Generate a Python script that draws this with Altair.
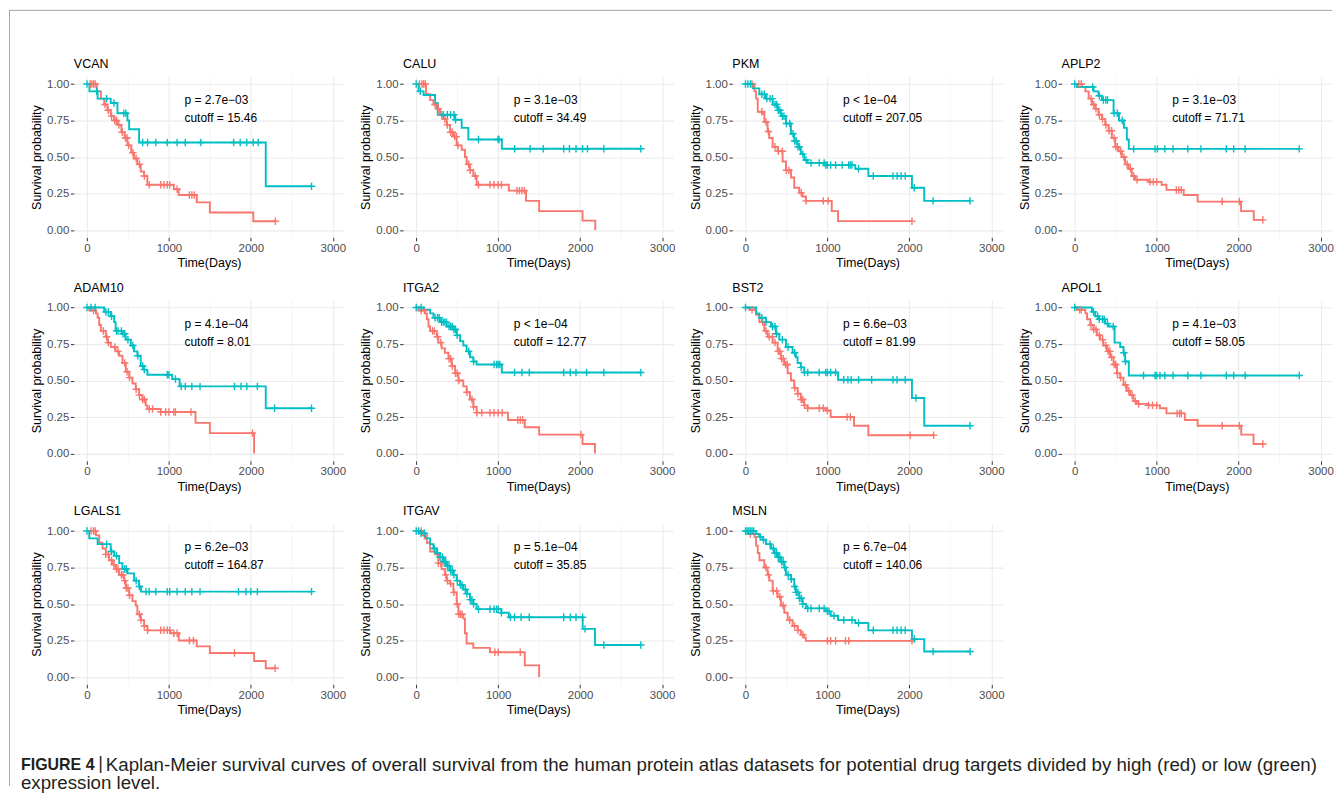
import altair as alt
import pandas as pd

FONT = "Liberation Sans"
RED = "#F8766D"
TEAL = "#00BFC4"
FRAME = "#A6A6A6"

GENES = ["VCAN", "CALU", "PKM", "APLP2", "ADAM10", "ITGA2", "BST2", "APOL1", "LGALS1", "ITGAV", "MSLN"]
P_VALUES = ["p = 2.7e\u221203", "p = 3.1e\u221203", "p < 1e\u221204", "p = 3.1e\u221203", "p = 4.1e\u221204",
            "p < 1e\u221204", "p = 6.6e\u221203", "p = 4.1e\u221203", "p = 6.2e\u221203", "p = 5.1e\u221204",
            "p = 6.7e\u221204"]
CUTOFFS = ["15.46", "34.49", "207.05", "71.71", "8.01", "12.77", "81.99", "58.05", "164.87", "35.85", "140.06"]

X_TICKS = [0, 500, 1000, 1500, 2000, 2500, 3000]
Y_TICKS = [0, 0.125, 0.25, 0.375, 0.5, 0.625, 0.75, 0.875, 1.0]

CAPTION_BOLD = "FIGURE 4"
CAPTION_BAR = "|"
CAPTION_1 = ("Kaplan-Meier survival curves of overall survival from the human protein atlas datasets "
             "for potential drug targets divided by high (red) or low (green)")
CAPTION_2 = "expression level."

# ---- survival curves: step times (days), survival, censor times ----
VCAN_HI_T = [0, 120, 170, 210, 250, 290, 330, 372, 420, 460, 494, 540, 575, 615, 656, 697, 737, 1060, 1120, 1340, 1500, 2030, 2300]
VCAN_HI_S = [1.0, 0.95, 0.90, 0.86, 0.82, 0.78, 0.75, 0.72, 0.67, 0.63, 0.58, 0.53, 0.49, 0.45, 0.40, 0.37, 0.31, 0.28, 0.24, 0.19, 0.12, 0.06, 0.06]
VCAN_HI_C = [40, 60, 80, 100, 220, 260, 300, 340, 360, 390, 430, 470, 490, 510, 560, 600, 640, 700, 760, 900, 940, 980, 1010, 1100, 1250, 1280, 1310, 2300]
VCAN_LO_T = [0, 30, 130, 290, 372, 494, 515, 636, 2182, 2741]
VCAN_LO_S = [1.0, 0.95, 0.90, 0.87, 0.80, 0.75, 0.69, 0.60, 0.30, 0.30]
VCAN_LO_C = [0, 120, 240, 330, 450, 475, 680, 740, 840, 980, 1100, 1200, 1390, 1790, 1870, 1950, 2030, 2090, 2741]

CALU_HI_T = [0, 120, 170, 210, 250, 290, 332, 372, 413, 453, 494, 555, 595, 615, 656, 697, 737, 1130, 1340, 1500, 2030, 2185]
CALU_HI_S = [1.0, 0.93, 0.89, 0.86, 0.83, 0.79, 0.76, 0.72, 0.67, 0.64, 0.58, 0.55, 0.50, 0.45, 0.41, 0.37, 0.31, 0.27, 0.20, 0.13, 0.065, 0.0]
CALU_HI_C = [40, 70, 90, 110, 230, 270, 310, 350, 380, 420, 440, 470, 490, 510, 640, 660, 720, 760, 900, 950, 1000, 1040, 1230, 1260, 1290, 1320]
CALU_LO_T = [0, 28, 90, 230, 262, 474, 555, 636, 1045, 2741]
CALU_LO_S = [1.0, 0.95, 0.925, 0.87, 0.79, 0.755, 0.70, 0.62, 0.557, 0.557]
CALU_LO_C = [0, 50, 330, 380, 420, 460, 480, 760, 1000, 1010, 1200, 1390, 1550, 1800, 1870, 1950, 2030, 2090, 2290, 2741]

PKM_HI_T = [0, 110, 130, 150, 210, 230, 270, 290, 332, 393, 453, 494, 555, 595, 656, 697, 737, 1053, 1130, 2032]
PKM_HI_S = [1.0, 0.95, 0.90, 0.81, 0.80, 0.74, 0.675, 0.63, 0.57, 0.54, 0.47, 0.41, 0.36, 0.29, 0.255, 0.23, 0.20, 0.13, 0.061, 0.061]
PKM_HI_C = [80, 200, 250, 280, 360, 400, 450, 500, 530, 680, 740, 950, 1010, 2032]
PKM_LO_T = [0, 90, 170, 250, 332, 393, 433, 494, 555, 595, 636, 676, 717, 757, 980, 1340, 1500, 2032, 2182, 2741]
PKM_LO_S = [1.0, 0.97, 0.93, 0.90, 0.86, 0.82, 0.78, 0.73, 0.66, 0.61, 0.57, 0.52, 0.48, 0.46, 0.445, 0.42, 0.37, 0.29, 0.20, 0.20]
PKM_LO_C = [0, 30, 60, 200, 230, 260, 300, 330, 360, 380, 400, 420, 450, 470, 500, 540, 580, 600, 620, 640, 660, 700, 740,
            800, 900, 960, 980, 1000, 1040, 1100, 1180, 1260, 1280, 1300, 1380, 1560, 1800, 1850, 1900, 1950, 2060, 2290, 2741]

APLP2_HI_T = [0, 90, 130, 170, 210, 250, 290, 332, 372, 413, 453, 494, 535, 575, 615, 656, 697, 737, 900, 1060, 1120, 1330, 1500, 2030, 2185, 2296]
APLP2_HI_S = [1.0, 0.98, 0.95, 0.90, 0.86, 0.83, 0.79, 0.76, 0.72, 0.68, 0.63, 0.57, 0.54, 0.50, 0.45, 0.42, 0.37, 0.345, 0.33, 0.31, 0.275, 0.24, 0.195, 0.13, 0.07, 0.07]
APLP2_HI_C = [50, 80, 200, 230, 260, 300, 340, 380, 420, 450, 480, 500, 520, 560, 600, 640, 680, 720, 760, 920, 960, 1000, 1240, 1270, 1300, 1800, 2010, 2296]
APLP2_LO_T = [0, 28, 230, 290, 332, 474, 540, 600, 636, 660, 2741]
APLP2_LO_S = [1.0, 0.98, 0.95, 0.92, 0.89, 0.80, 0.75, 0.70, 0.62, 0.556, 0.556]
APLP2_LO_C = [0, 220, 300, 350, 380, 400, 480, 520, 580, 720, 980, 1010, 1100, 1200, 1380, 1540, 1850, 1940, 2080, 2741]

ADAM10_HI_T = [0, 28, 110, 130, 150, 170, 230, 250, 290, 350, 393, 433, 474, 515, 555, 595, 636, 676, 717, 737, 900, 1325, 1500, 2040]
ADAM10_HI_S = [1.0, 0.98, 0.96, 0.93, 0.88, 0.84, 0.80, 0.76, 0.73, 0.70, 0.67, 0.62, 0.56, 0.52, 0.48, 0.44, 0.40, 0.37, 0.33, 0.305, 0.285, 0.21, 0.14, 0.0]
ADAM10_HI_C = [80, 200, 240, 260, 340, 380, 460, 490, 520, 600, 640, 680, 700, 760, 800, 900, 960, 1000, 1060, 1080, 1270, 2020]
ADAM10_LO_T = [0, 210, 290, 332, 350, 433, 474, 535, 575, 615, 656, 697, 737, 1040, 1130, 2182, 2741]
ADAM10_LO_S = [1.0, 0.97, 0.94, 0.90, 0.84, 0.82, 0.78, 0.74, 0.70, 0.67, 0.60, 0.575, 0.54, 0.51, 0.46, 0.31, 0.31]
ADAM10_LO_C = [0, 50, 100, 230, 260, 300, 360, 380, 420, 440, 460, 500, 560, 620, 680, 700, 980, 1000, 1080, 1150, 1200,
               1280, 1380, 1800, 1880, 1950, 2080, 2290, 2741]

ITGA2_HI_T = [0, 28, 110, 130, 150, 170, 250, 270, 310, 350, 393, 433, 474, 515, 575, 615, 656, 697, 737, 1120, 1325, 1500, 2030, 2182]
ITGA2_HI_S = [1.0, 0.98, 0.96, 0.92, 0.87, 0.84, 0.80, 0.76, 0.72, 0.69, 0.65, 0.60, 0.55, 0.50, 0.46, 0.42, 0.37, 0.32, 0.28, 0.23, 0.18, 0.13, 0.065, 0.0]
ITGA2_HI_C = [60, 100, 200, 220, 260, 300, 400, 420, 440, 480, 500, 520, 620, 680, 700, 740, 800, 900, 950, 1000, 1050, 1240, 1270, 1300, 2010]
ITGA2_LO_T = [0, 90, 170, 210, 290, 372, 453, 494, 535, 575, 615, 656, 697, 737, 1045, 2741]
ITGA2_LO_S = [1.0, 0.985, 0.96, 0.93, 0.90, 0.87, 0.85, 0.81, 0.77, 0.74, 0.70, 0.66, 0.63, 0.61, 0.555, 0.555]
ITGA2_LO_C = [0, 60, 230, 260, 280, 310, 330, 350, 370, 400, 420, 440, 460, 480, 500, 640, 700, 950, 980, 1000, 1020,
              1200, 1290, 1380, 1800, 1880, 1950, 2080, 2290, 2741]

BST2_HI_T = [0, 50, 130, 170, 230, 270, 332, 393, 433, 474, 515, 555, 595, 636, 676, 717, 757, 980, 1040, 1325, 1500, 2296]
BST2_HI_S = [1.0, 0.985, 0.95, 0.90, 0.84, 0.80, 0.76, 0.70, 0.65, 0.61, 0.55, 0.50, 0.45, 0.41, 0.37, 0.33, 0.31, 0.295, 0.25, 0.19, 0.125, 0.125]
BST2_HI_C = [80, 210, 250, 290, 330, 360, 400, 420, 440, 460, 490, 510, 600, 640, 680, 700, 720, 760, 900, 950, 1000, 1240, 1280, 2010, 2296]
BST2_LO_T = [0, 130, 170, 250, 312, 372, 413, 494, 575, 615, 636, 676, 717, 1130, 2032, 2182, 2741]
BST2_LO_S = [1.0, 0.96, 0.93, 0.90, 0.87, 0.82, 0.78, 0.73, 0.69, 0.66, 0.62, 0.59, 0.555, 0.505, 0.38, 0.19, 0.19]
BST2_LO_C = [0, 200, 250, 330, 360, 380, 450, 520, 600, 680, 720, 760, 900, 980, 1000, 1040, 1100, 1200, 1250, 1290,
             1380, 1540, 1800, 1850, 1950, 2080, 2741]

APOL1_HI_T = [0, 28, 130, 150, 190, 230, 270, 310, 350, 393, 433, 474, 515, 555, 595, 636, 676, 717, 757, 900, 1040, 1120, 1344, 1500, 2032, 2182, 2296]
APOL1_HI_S = [1.0, 0.985, 0.96, 0.92, 0.88, 0.85, 0.81, 0.78, 0.74, 0.70, 0.66, 0.61, 0.55, 0.52, 0.47, 0.43, 0.40, 0.36, 0.34, 0.33, 0.31, 0.275, 0.23, 0.19, 0.13, 0.065, 0.065]
APOL1_HI_C = [60, 80, 200, 230, 260, 300, 340, 380, 410, 430, 450, 480, 500, 520, 560, 620, 660, 700, 740, 780, 900, 950,
              1000, 1250, 1280, 1300, 1800, 2010, 2296]
APOL1_LO_T = [0, 210, 250, 290, 372, 413, 486, 555, 595, 615, 660, 2741]
APOL1_LO_S = [1.0, 0.97, 0.94, 0.92, 0.89, 0.87, 0.76, 0.73, 0.69, 0.63, 0.535, 0.535]
APOL1_LO_C = [0, 230, 280, 300, 340, 360, 400, 470, 600, 620, 840, 980, 1000, 1040, 1100, 1200, 1380, 1540, 1850, 1940, 2080, 2741]

LGALS1_HI_T = [0, 110, 150, 190, 230, 270, 310, 350, 393, 453, 474, 515, 555, 595, 615, 656, 697, 737, 1020, 1120, 1340, 1500, 2040, 2182, 2296]
LGALS1_HI_S = [1.0, 0.97, 0.92, 0.88, 0.84, 0.80, 0.77, 0.74, 0.70, 0.66, 0.61, 0.56, 0.52, 0.49, 0.43, 0.39, 0.35, 0.32, 0.30, 0.25, 0.21, 0.165, 0.11, 0.06, 0.06]
LGALS1_HI_C = [50, 80, 100, 230, 260, 300, 330, 360, 380, 420, 440, 460, 480, 500, 520, 640, 660, 700, 740, 900, 940, 980,
               1010, 1060, 1100, 1250, 1300, 1800, 2296]
LGALS1_LO_T = [0, 28, 130, 290, 332, 393, 433, 494, 575, 636, 660, 2741]
LGALS1_LO_S = [1.0, 0.95, 0.91, 0.86, 0.83, 0.78, 0.74, 0.71, 0.66, 0.62, 0.585, 0.585]
LGALS1_LO_C = [0, 240, 300, 360, 460, 480, 600, 640, 720, 760, 840, 980, 1010, 1100, 1200, 1280, 1380, 1850, 1940, 2000, 2080, 2741]

ITGAV_HI_T = [0, 90, 130, 170, 230, 270, 310, 350, 372, 413, 453, 494, 515, 575, 595, 615, 697, 900, 1325, 1500]
ITGAV_HI_S = [1.0, 0.97, 0.92, 0.86, 0.84, 0.78, 0.74, 0.70, 0.66, 0.64, 0.58, 0.50, 0.43, 0.40, 0.30, 0.23, 0.20, 0.17, 0.08, 0.0]
ITGAV_HI_C = [60, 100, 270, 300, 360, 380, 420, 460, 500, 520, 540, 560, 960, 1000, 1270]
ITGAV_LO_T = [0, 50, 110, 170, 210, 250, 290, 332, 372, 413, 453, 494, 535, 575, 615, 656, 697, 737, 1040, 1130, 2032, 2182, 2741]
ITGAV_LO_S = [1.0, 0.985, 0.95, 0.91, 0.88, 0.85, 0.82, 0.79, 0.76, 0.73, 0.70, 0.66, 0.63, 0.60, 0.57, 0.53, 0.50, 0.465, 0.44, 0.41, 0.33, 0.22, 0.22]
ITGAV_LO_C = [0, 30, 60, 100, 220, 260, 290, 320, 340, 360, 380, 400, 420, 440, 460, 500, 540, 560, 600, 620, 660, 680,
              700, 760, 900, 950, 980, 1000, 1040, 1150, 1200, 1280, 1380, 1800, 1880, 1950, 2030, 2060, 2290, 2741]

MSLN_HI_T = [0, 28, 110, 130, 150, 170, 230, 270, 290, 332, 393, 433, 474, 515, 575, 636, 676, 717, 737, 2032]
MSLN_HI_S = [1.0, 0.98, 0.96, 0.90, 0.85, 0.80, 0.75, 0.70, 0.66, 0.59, 0.55, 0.49, 0.44, 0.39, 0.35, 0.32, 0.29, 0.27, 0.248, 0.248]
MSLN_HI_C = [60, 250, 280, 340, 380, 420, 460, 540, 600, 640, 700, 1000, 1040, 1100, 1220, 1260, 2032]
MSLN_LO_T = [0, 130, 170, 210, 250, 312, 350, 393, 433, 474, 494, 555, 595, 615, 656, 697, 737, 980, 1040, 1130, 1340, 1500, 2032, 2182, 2741]
MSLN_LO_S = [1.0, 0.98, 0.96, 0.94, 0.91, 0.88, 0.85, 0.82, 0.79, 0.75, 0.70, 0.67, 0.62, 0.58, 0.54, 0.50, 0.47, 0.45, 0.42, 0.39, 0.37, 0.32, 0.26, 0.175, 0.175]
MSLN_LO_C = [0, 20, 40, 60, 80, 100, 180, 220, 300, 340, 360, 380, 400, 420, 440, 460, 480, 520, 560, 600, 620, 640, 660,
             680, 700, 760, 800, 900, 960, 1000, 1020, 1080, 1200, 1300, 1380, 1560, 1800, 1850, 1900, 1950, 2060, 2290, 2741]

SERIES = {
    "VCAN": (VCAN_HI_T, VCAN_HI_S, VCAN_HI_C, VCAN_LO_T, VCAN_LO_S, VCAN_LO_C),
    "CALU": (CALU_HI_T, CALU_HI_S, CALU_HI_C, CALU_LO_T, CALU_LO_S, CALU_LO_C),
    "PKM": (PKM_HI_T, PKM_HI_S, PKM_HI_C, PKM_LO_T, PKM_LO_S, PKM_LO_C),
    "APLP2": (APLP2_HI_T, APLP2_HI_S, APLP2_HI_C, APLP2_LO_T, APLP2_LO_S, APLP2_LO_C),
    "ADAM10": (ADAM10_HI_T, ADAM10_HI_S, ADAM10_HI_C, ADAM10_LO_T, ADAM10_LO_S, ADAM10_LO_C),
    "ITGA2": (ITGA2_HI_T, ITGA2_HI_S, ITGA2_HI_C, ITGA2_LO_T, ITGA2_LO_S, ITGA2_LO_C),
    "BST2": (BST2_HI_T, BST2_HI_S, BST2_HI_C, BST2_LO_T, BST2_LO_S, BST2_LO_C),
    "APOL1": (APOL1_HI_T, APOL1_HI_S, APOL1_HI_C, APOL1_LO_T, APOL1_LO_S, APOL1_LO_C),
    "LGALS1": (LGALS1_HI_T, LGALS1_HI_S, LGALS1_HI_C, LGALS1_LO_T, LGALS1_LO_S, LGALS1_LO_C),
    "ITGAV": (ITGAV_HI_T, ITGAV_HI_S, ITGAV_HI_C, ITGAV_LO_T, ITGAV_LO_S, ITGAV_LO_C),
    "MSLN": (MSLN_HI_T, MSLN_HI_S, MSLN_HI_C, MSLN_LO_T, MSLN_LO_S, MSLN_LO_C),
}

# annotation anchor (data units), like survminer's pval.coord
P_X, P_Y, CUT_Y = 1190, 0.89, 0.765

# layout (pixels)
W, H = 271, 161
COL_SP, ROW_SP = 59, 63
VIEW_X0, VIEW_Y0 = 73, 75          # page position of the first panel's plot area
PAGE_M = 8                          # page margin
PAGE_R = 1334                       # right-most page x the figure may use


def rel_x(px):
    """page x -> x inside the spare 12th cell (row 3, column 4)"""
    return px - (VIEW_X0 + 3 * (W + COL_SP))


def rel_y(py):
    return py - (VIEW_Y0 + 2 * (H + ROW_SP))


XSCALE = alt.Scale(domain=[-160, 3140], nice=False, zero=False)
YSCALE = alt.Scale(domain=[-0.05, 1.05], nice=False, zero=False)

X_MAJOR = "datum.value % 1000 === 0"
Y_MAJOR = "(datum.value * 4) % 1 === 0"

XAXIS = alt.Axis(
    values=X_TICKS, format="d", labelExpr=X_MAJOR + " ? datum.label : ''",
    tickColor={"condition": {"test": X_MAJOR, "value": "#333333"}, "value": "transparent"},
    gridColor="#EBEBEB",
    gridWidth={"condition": {"test": X_MAJOR, "value": 1.1}, "value": 0.55},
    labelFlush=False, labelOverlap=False,
)
YAXIS = alt.Axis(
    values=Y_TICKS, labelExpr=Y_MAJOR + " ? format(datum.value, '.2f') : ''",
    tickColor={"condition": {"test": Y_MAJOR, "value": "#333333"}, "value": "transparent"},
    gridColor="#EBEBEB",
    gridWidth={"condition": {"test": Y_MAJOR, "value": 1.1}, "value": 0.55},
    labelOverlap=False,
)

COLOR = alt.Color("grp:N", scale=alt.Scale(domain=["high", "low"], range=[RED, TEAL]), legend=None)


def step_value(ts, ss, c):
    v = ss[0]
    for t, s in zip(ts, ss):
        if t <= c:
            v = s
    return v


def panel(idx):
    gene = GENES[idx]
    hi_t, hi_s, hi_c, lo_t, lo_s, lo_c = SERIES[gene]
    rows, cens = [], []
    for grp, ts, ss, cs in (("high", hi_t, hi_s, hi_c), ("low", lo_t, lo_s, lo_c)):
        for k, (t, s) in enumerate(zip(ts, ss)):
            rows.append({"t": t, "s": s, "grp": grp, "k": k})
        for c in cs:
            cens.append({"t": c, "s": step_value(ts, ss, c), "grp": grp})
    line_df = pd.DataFrame(rows)
    cens_df = pd.DataFrame(cens)
    txt_df = pd.DataFrame({"t": [P_X, P_X], "s": [P_Y, CUT_Y],
                           "label": [P_VALUES[idx], "cutoff = " + CUTOFFS[idx]]})

    x = alt.X("t:Q", scale=XSCALE, axis=XAXIS, title="Time(Days)")
    y = alt.Y("s:Q", scale=YSCALE, axis=YAXIS, title="Survival probability")

    lines = alt.Chart(line_df).mark_line(interpolate="step-after", strokeWidth=1.9).encode(
        x=x, y=y, color=COLOR, order="k:Q")
    marks = alt.Chart(cens_df).mark_point(
        shape="M-1,0L1,0M0,-1L0,1", size=56, strokeWidth=1.4, filled=False, opacity=1).encode(
        x="t:Q", y="s:Q", color=COLOR)
    texts = alt.Chart(txt_df).mark_text(
        align="left", baseline="middle", fontSize=12, font=FONT, color="black").encode(
        x="t:Q", y="s:Q", text="label:N")

    return alt.layer(lines, marks, texts).properties(
        width=W, height=H,
        title=alt.TitleParams(gene, anchor="start", frame="group", fontSize=12.5, fontWeight="normal",
                              font=FONT, color="black", offset=6),
    )


def decoration():
    """figure frame and caption, drawn from the empty 12th grid cell"""
    one = pd.DataFrame({"a": [0]})
    cap = dict(align="left", baseline="middle", font=FONT, color="#231F20")
    layers = [
        alt.Chart(one).mark_rule(color=FRAME, strokeWidth=1).encode(
            x=alt.value(rel_x(PAGE_M)), x2=alt.value(rel_x(PAGE_R)), y=alt.value(rel_y(PAGE_M + 0.5))),
        alt.Chart(one).mark_rule(color=FRAME, strokeWidth=1).encode(
            x=alt.value(rel_x(PAGE_M + 0.5)), y=alt.value(rel_y(PAGE_M)), y2=alt.value(rel_y(786))),
        alt.Chart(one).mark_text(text=CAPTION_BOLD, fontSize=16, fontWeight="bold", **cap).encode(
            x=alt.value(rel_x(20)), y=alt.value(rel_y(765))),
        alt.Chart(one).mark_text(text=CAPTION_BAR, fontSize=18, **cap).encode(
            x=alt.value(rel_x(97.5)), y=alt.value(rel_y(764))),
        alt.Chart(one).mark_text(text=CAPTION_1, fontSize=18.75, **cap).encode(
            x=alt.value(rel_x(105)), y=alt.value(rel_y(765))),
        alt.Chart(one).mark_text(text=CAPTION_2, fontSize=18.75, **cap).encode(
            x=alt.value(rel_x(20)), y=alt.value(rel_y(783))),
    ]
    return alt.layer(*layers).properties(width=W, height=H)


charts = [panel(i) for i in range(len(GENES))] + [decoration()]

chart = alt.concat(*charts, columns=4, spacing={"row": ROW_SP, "column": COL_SP}, bounds="flush").properties(
    padding={"left": 0, "top": 0, "right": 0, "bottom": 0}, background="white"
).configure_view(stroke="transparent").configure_axis(
    labelFont=FONT, titleFont=FONT, labelFontSize=11.5, titleFontSize=12.5,
    labelColor="#4D4D4D", titleColor="black", titleFontWeight="normal",
    domain=False, tickSize=3.5, tickWidth=1, labelPadding=1.5, titlePadding=3,
)

chart.save("out.html", embed_options={"renderer": "svg", "actions": False})
